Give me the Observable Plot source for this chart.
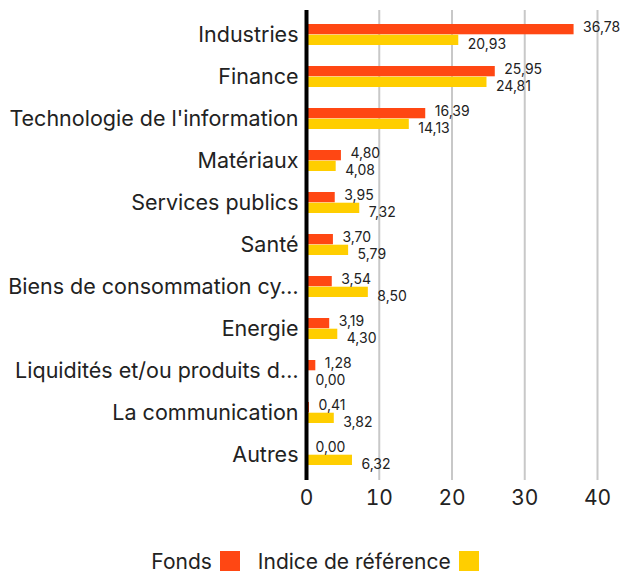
<!DOCTYPE html>
<html><head><meta charset="utf-8">
<script src="https://cdn.jsdelivr.net/npm/d3@7"></script>
<script src="https://cdn.jsdelivr.net/npm/@observablehq/plot@0.6"></script>
<style>
body{margin:0;background:#fff;font-family:Inter,"Open Sans",sans-serif;color:#222}
#chart{width:622px;height:520px}
#legend{display:flex;justify-content:center;align-items:center;height:40px;margin-top:21px;padding-left:8px;font-size:21px}
.item{display:flex;align-items:center;margin:0 9px}
.sw{width:20px;height:20px;margin-left:8px;display:inline-block}
</style>
</head><body>
<div id="chart"></div>
<div id="legend"></div>
<script>
const categories = ["Industries","Finance","Technologie de l'information","Matériaux","Services publics","Santé","Biens de consommation cy…","Energie","Liquidités et/ou produits d…","La communication","Autres"];
const fonds = [36.78,25.95,16.39,4.80,3.95,3.70,3.54,3.19,1.28,0.41,0.00];
const indice = [20.93,24.81,14.13,4.08,7.32,5.79,8.50,4.30,0.00,3.82,6.32];
const seriesNames = ["Fonds","Indice de référence"];
const seriesColors = ["#ff4713","#ffce00"];
const xTicks = [0,10,20,30,40];

const fmt = v => v.toFixed(2).replace(".", ",");
const data = categories.map((c,i)=>({category:c, fonds:fonds[i], indice:indice[i]}));

const W=622, H=520, mt=10, mb=40, pi=0.495, po=0.29;
const step = (H-mt-mb)/(categories.length - pi + 2*po);
const half = step*(1-pi)/2;

const chart = Plot.plot({
  width:W, height:H, marginTop:mt, marginBottom:mb, marginLeft:306, marginRight:25,
  style:{fontFamily:"Inter, 'Open Sans', sans-serif", color:"#222", background:"#fff", overflow:"visible"},
  x:{domain:[0,40], ticks:xTicks, label:null},
  y:{domain:categories, paddingInner:pi, paddingOuter:po, label:null},
  marks:[
    Plot.gridX(xTicks, {stroke:"#c8c8c8", strokeOpacity:1, strokeWidth:2}),
    Plot.axisX(xTicks, {tickSize:0, tickPadding:10, fontSize:21, label:null}),
    Plot.axisY({tickSize:0, tickPadding:8, fontSize:21.5, label:null}),
    Plot.barX(data, {y:"category", x:"fonds", fill:seriesColors[0], insetBottom:half}),
    Plot.barX(data, {y:"category", x:"indice", fill:seriesColors[1], insetTop:half}),
    Plot.text(data, {y:"category", x:"fonds", text:d=>fmt(d.fonds), dx:9, dy:-7.5, textAnchor:"start", fontSize:14, fill:"#222"}),
    Plot.text(data, {y:"category", x:"indice", text:d=>fmt(d.indice), dx:9, dy:10, textAnchor:"start", fontSize:14, fill:"#222"}),
    Plot.ruleX([0], {stroke:"#000", strokeWidth:4})
  ]
});
document.getElementById("chart").appendChild(chart);

const legend = document.getElementById("legend");
seriesNames.forEach((n,i)=>{
  const it = document.createElement("div"); it.className="item";
  const t = document.createElement("span"); t.textContent=n;
  const s = document.createElement("span"); s.className="sw"; s.style.background=seriesColors[i];
  it.appendChild(t); it.appendChild(s); legend.appendChild(it);
});
</script>
</body></html>
